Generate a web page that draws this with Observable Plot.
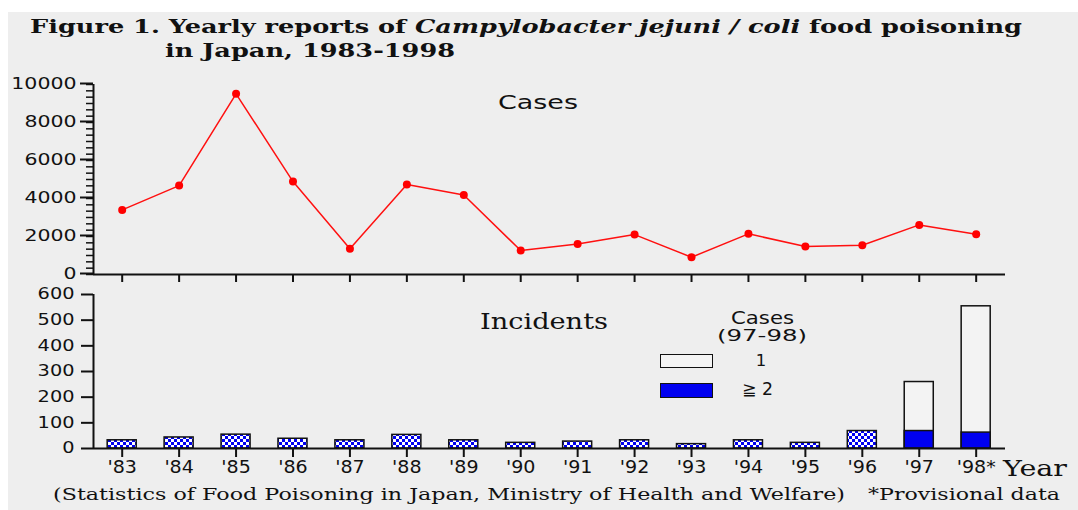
<!DOCTYPE html>
<html>
<head>
<meta charset="utf-8">
<script src="https://cdn.jsdelivr.net/npm/d3@7"></script>
<script src="https://cdn.jsdelivr.net/npm/@observablehq/plot@0.6"></script>
<style>
  html, body { margin: 0; padding: 0; background: #ffffff; }
  #wrap { position: relative; width: 1078px; height: 510px; overflow: hidden; }
  #bg { position: absolute; left: 8px; top: 12px; right: 0; bottom: 0; background: #eeeeee; }
  .lbl { position: absolute; white-space: nowrap; line-height: 1; color: #111; transform-origin: 0 0; }
  .plotbox { position: absolute; left: 0; }
  .box { position: absolute; box-sizing: border-box; border: 1.5px solid #111; }
</style>
</head>
<body>
<div id="wrap">
  <div id="bg"></div>
  <div id="top" class="plotbox" style="top:70px"></div>
  <div id="bottom" class="plotbox" style="top:280px"></div>
</div>
<script>
// ---------------- data ----------------
const years = [1983, 1984, 1985, 1986, 1987, 1988, 1989, 1990, 1991, 1992, 1993, 1994, 1995, 1996, 1997, 1998];
const yearLabels = ["'83", "'84", "'85", "'86", "'87", "'88", "'89", "'90", "'91", "'92", "'93", "'94", "'95", "'96", "'97", "'98*"];
const cases = [3400, 4680, 9510, 4890, 1350, 4740, 4180, 1260, 1610, 2100, 910, 2140, 1470, 1540, 2610, 2120];
const incidents = [32, 43, 54, 38, 32, 53, 32, 22, 27, 32, 17, 32, 22, 68, 259, 554];
const splitYears = [1997, 1998];                 // years split by cases per incident
const incidentsMultiCase = [68, 62];             // incidents with >= 2 cases (97-98)
const caseTicks = [0, 2000, 4000, 6000, 8000, 10000];
const caseMinorTicks = d3.range(0, 31).map(i => i * 10000 / 30);
const incidentTicks = [0, 100, 200, 300, 400, 500, 600];

const xDomain = [1982.496, 1998.515];
const halfBar = 0.255;

const caseData = years.map((y, i) => ({year: y, cases: cases[i]}));
const incData = years.map((y, i) => ({year: y, n: incidents[i], split: splitYears.includes(y)}));
const multiData = splitYears.map((y, i) => ({year: y, n: incidentsMultiCase[i]}));
const labelOf = y => yearLabels[years.indexOf(y)];

const BLUE = "#0000f0";
const INK = "#111111";

// ---------------- top chart: cases ----------------
const topPlot = Plot.plot({
  width: 1078, height: 220,
  marginLeft: 93, marginRight: 73, marginTop: 14, marginBottom: 16,
  style: {background: "none", fontFamily: "DejaVu Sans", fontSize: "16px", color: INK},
  x: {domain: xDomain, axis: null},
  y: {domain: [0, 10000], axis: null},
  marks: [
    Plot.axisY(caseMinorTicks, {tickSize: 7, strokeWidth: 1.5, text: null, label: null}),
    Plot.axisY(caseTicks, {tickSize: 13, tickPadding: 4, strokeWidth: 2, fontSize: 16, tickFormat: d => String(d), dy: -1, label: null}),
    Plot.axisX(years, {tickSize: 8, strokeWidth: 2, text: null, label: null}),
    Plot.ruleX([xDomain[0]], {stroke: INK, strokeWidth: 2}),
    Plot.ruleY([0], {stroke: INK, strokeWidth: 2}),
    Plot.line(caseData, {x: "year", y: "cases", stroke: "#ff1010", strokeWidth: 1.5}),
    Plot.dot(caseData, {x: "year", y: "cases", r: 4, fill: "#ff0000", stroke: "none"})
  ]
});

// ---------------- bottom chart: incidents ----------------
const botPlot = Plot.plot({
  width: 1078, height: 200,
  marginLeft: 93, marginRight: 73, marginTop: 14, marginBottom: 32,
  style: {background: "none", fontFamily: "DejaVu Sans", fontSize: "16px", color: INK},
  x: {domain: xDomain, axis: null},
  y: {domain: [0, 600], axis: null},
  marks: [
    Plot.axisY(incidentTicks, {tickSize: 12, tickPadding: 7, strokeWidth: 2, fontSize: 15, tickFormat: d => String(d), label: null}),
    Plot.axisX(years, {tickSize: 9, tickPadding: 3.5, strokeWidth: 2, fontSize: 17, tickFormat: labelOf, label: null}),
    Plot.rectY(incData, {
      x1: d => d.year - halfBar, x2: d => d.year + halfBar, y1: 0, y2: "n",
      fill: d => d.split ? "#f3f3f3" : "url(#chk)", stroke: INK, strokeWidth: 1.5
    }),
    Plot.rectY(multiData, {
      x1: d => d.year - halfBar, x2: d => d.year + halfBar, y1: 0, y2: "n",
      fill: BLUE, stroke: INK, strokeWidth: 1.5
    }),
    Plot.ruleX([xDomain[0]], {stroke: INK, strokeWidth: 2}),
    Plot.ruleY([0], {stroke: INK, strokeWidth: 2})
  ]
});
// fill pattern for blue/white checkered bars
d3.select(botPlot).insert("defs", ":first-child").html(
  `<pattern id="chk" patternUnits="userSpaceOnUse" width="6" height="6">
     <rect width="6" height="6" fill="${BLUE}"/>
     <rect x="0" y="0" width="3" height="3" fill="#ffffff"/>
     <rect x="3" y="3" width="3" height="3" fill="#ffffff"/>
   </pattern>`);

document.getElementById("top").appendChild(topPlot);
document.getElementById("bottom").appendChild(botPlot);

function stretch(root, k) {
  root.querySelectorAll("text").forEach(t => {
    const len = t.getComputedTextLength();
    if (len > 0) {
      t.setAttribute("textLength", (len * k).toFixed(1));
      t.setAttribute("lengthAdjust", "spacingAndGlyphs");
    }
  });
}
topPlot.querySelectorAll('g[aria-label="y-axis tick label"]').forEach(g => stretch(g, 1.28));
botPlot.querySelectorAll('g[aria-label="y-axis tick label"]').forEach(g => stretch(g, 1.29));
botPlot.querySelectorAll('g[aria-label="x-axis tick label"]').forEach(g => stretch(g, 1.12));

// ---------------- text overlays ----------------
const wrap = document.getElementById("wrap");
function label(html, {left, top, width, size, family, weight, center}) {
  const el = document.createElement("div");
  el.className = "lbl";
  el.innerHTML = html;
  el.style.fontSize = size + "px";
  el.style.fontFamily = family;
  if (weight) el.style.fontWeight = weight;
  el.style.top = top + "px";
  wrap.appendChild(el);
  const nat = el.getBoundingClientRect().width;
  let sx = 1;
  if (width) sx = width / nat;
  el.style.transform = `scaleX(${sx})`;
  el.style.left = (center != null ? center - nat * sx / 2 : left) + "px";
  return el;
}
const SERIF = "'DejaVu Serif', serif";
const SANS = "'DejaVu Sans', sans-serif";

label("Figure 1. Yearly reports of <i>Campylobacter jejuni / coli</i> food poisoning",
  {left: 30, top: 18, width: 992, size: 18, family: SERIF, weight: "bold"});
label("in Japan, 1983-1998", {left: 165, top: 42, width: 290, size: 18, family: SERIF, weight: "bold"});

label("Cases", {left: 498, top: 91.5, width: 80, size: 20, family: SANS});
label("Incidents", {left: 480, top: 311, width: 128, size: 22, family: SERIF});

// legend
label("Cases", {left: 731, top: 309.5, width: 63, size: 17, family: SANS});
label("(97-98)", {left: 717, top: 328.5, width: 90, size: 15, family: SANS});
const b1 = document.createElement("div");
b1.className = "box";
Object.assign(b1.style, {left: "660px", top: "354px", width: "53px", height: "14px", background: "#f4f4f4"});
wrap.appendChild(b1);
const b2 = document.createElement("div");
b2.className = "box";
Object.assign(b2.style, {left: "660px", top: "383px", width: "53px", height: "15px", background: BLUE});
wrap.appendChild(b2);
label("1", {center: 761, top: 353, size: 16.5, family: SANS});
label("≧ 2", {left: 742, top: 381, width: 31, size: 17, family: "'DejaVu Sans', 'Noto Sans CJK JP', sans-serif"});

label("Year", {left: 1003, top: 457.5, width: 64, size: 22, family: SERIF});

label("(Statistics of Food Poisoning in Japan, Ministry of Health and Welfare)",
  {left: 53, top: 485.5, width: 792, size: 17, family: SERIF});
label("*Provisional data", {left: 868, top: 485.5, width: 192, size: 17, family: SERIF});
</script>
</body>
</html>
